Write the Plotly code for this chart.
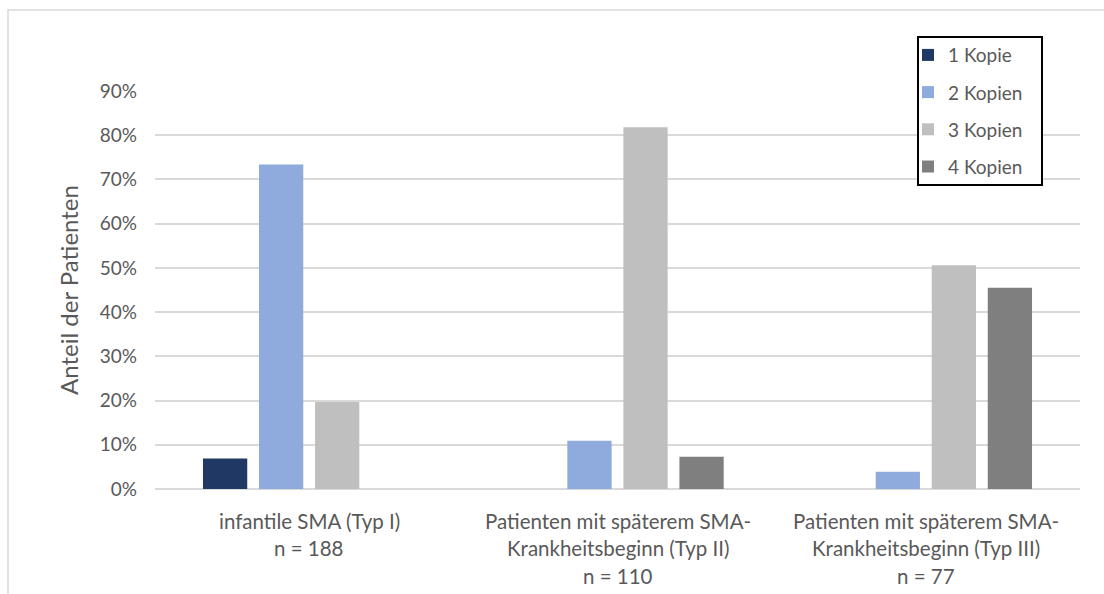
import plotly.graph_objects as go

# Patient groups (x categories); "<br>" separates the label lines
categories = [
    "infantile SMA (Typ I)<br>n = 188",
    "Patienten mit späterem SMA-<br>Krankheitsbeginn (Typ II)<br>n = 110",
    "Patienten mit späterem SMA-<br>Krankheitsbeginn (Typ III)<br>n = 77",
]

# Share of patients per SMN2 copy number (fractions)
kopie_1 = [0.069, 0.0, 0.0]
kopien_2 = [0.734, 0.109, 0.039]
kopien_3 = [0.197, 0.818, 0.506]
kopien_4 = [0.0, 0.073, 0.455]

series_names = ["1 Kopie", "2 Kopien", "3 Kopien", "4 Kopien"]
series_values = [kopie_1, kopien_2, kopien_3, kopien_4]
series_colors = ["#203864", "#8FAADC", "#BFBFBF", "#7F7F7F"]

y_ticks = [0, 0.1, 0.2, 0.3, 0.4, 0.5, 0.6, 0.7, 0.8, 0.9]

FONT = "Lato"
TEXT_COLOR = "#595959"
GRID_COLOR = "#D9D9D9"

W, H = 1104, 594
M_L, M_R, M_T, M_B = 155, 24, 91, 104.5
plot_w = W - M_L - M_R
plot_h = H - M_T - M_B


def px_to_paper_x(px):
    return (px - M_L) / plot_w


def px_to_paper_y(py):
    return (H - M_B - py) / plot_h


fig = go.Figure()
for i, (name, vals, col) in enumerate(zip(series_names, series_values, series_colors)):
    fig.add_trace(go.Bar(
        x=categories,
        y=vals,
        name=name,
        marker=dict(color=col, line=dict(width=0)),
        legendgroup=f"g{i}",
    ))

# Category labels, one annotation per text line
annotations = []
line_step = 27.5
for cat in categories:
    for j, line in enumerate(cat.split("<br>")):
        annotations.append(dict(
            x=cat, xref="x", y=0, yref="paper",
            text=line, showarrow=False,
            xanchor="center", yanchor="middle",
            yshift=-(31.5 + j * line_step),
            font=dict(family=FONT, size=20.5, color=TEXT_COLOR),
        ))

shapes = [
    # chart area frame
    dict(
        type="rect", xref="paper", yref="paper",
        x0=px_to_paper_x(8), x1=px_to_paper_x(1120),
        y0=px_to_paper_y(620), y1=px_to_paper_y(10),
        line=dict(color=GRID_COLOR, width=1.5),
        fillcolor="rgba(0,0,0,0)", layer="below",
    ),
    # legend box
    dict(
        type="rect", xref="paper", yref="paper",
        x0=px_to_paper_x(918), x1=px_to_paper_x(1042),
        y0=px_to_paper_y(185), y1=px_to_paper_y(37),
        line=dict(color="black", width=2),
        fillcolor="white", layer="above",
    ),
]

fig.update_layout(
    width=W, height=H,
    margin=dict(l=M_L, r=M_R, t=M_T, b=M_B, pad=0),
    paper_bgcolor="white", plot_bgcolor="white",
    barmode="group", bargap=0.273, bargroupgap=0.21,
    font=dict(family=FONT, size=19, color=TEXT_COLOR),
    showlegend=True,
    legend=dict(
        x=px_to_paper_x(908), y=px_to_paper_y(36),
        xanchor="left", yanchor="top",
        bgcolor="rgba(0,0,0,0)", borderwidth=0,
        font=dict(family=FONT, size=19, color=TEXT_COLOR),
        traceorder="grouped", tracegroupgap=9.5,
        itemwidth=30,
    ),
    xaxis=dict(
        type="category", showticklabels=False, showgrid=False,
        showline=False, ticks="", zeroline=False,
    ),
    yaxis=dict(
        range=[0, 0.9], tickvals=y_ticks, tickformat=".0%",
        showgrid=True, gridcolor=GRID_COLOR, gridwidth=1.5,
        zeroline=True, zerolinecolor=GRID_COLOR, zerolinewidth=1.5,
        showline=False, ticks="", ticklabelstandoff=17,
        tickfont=dict(family=FONT, size=19, color=TEXT_COLOR),
        title=dict(text="Anteil der Patienten", standoff=14,
                   font=dict(family=FONT, size=24, color=TEXT_COLOR)),
    ),
    annotations=annotations,
    shapes=shapes,
)

fig.write_html("out.html")
